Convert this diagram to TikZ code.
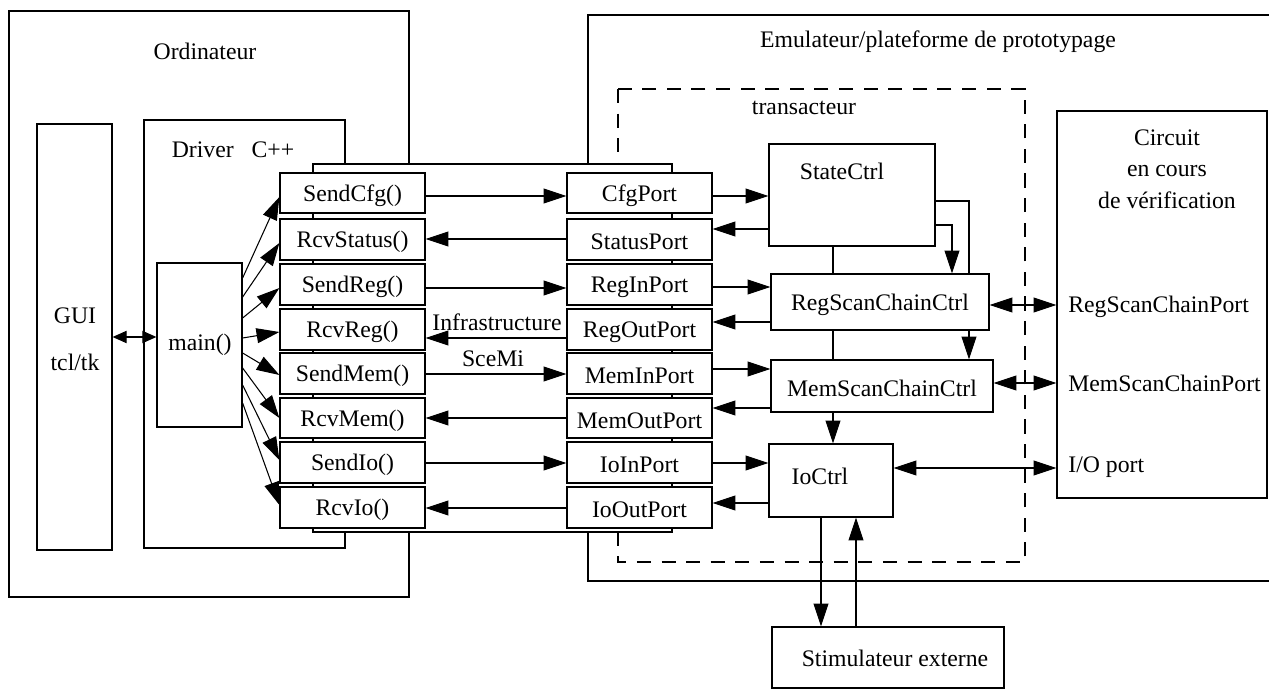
\documentclass[tikz,border=0pt]{standalone}
\usepackage{fontspec}
\setmainfont{Liberation Serif}
\usetikzlibrary{arrows.meta,fit}

\begin{document}
\begin{tikzpicture}[x=0.02cm,y=-0.02cm,
  box/.style={draw, line width=0.7pt, fill=white, inner sep=0pt},
  lbl/.style={inner sep=0pt, font=\fontsize{13.5}{16}\selectfont},
  txt/.style={label={[lbl, yshift=-1.5pt]center:#1}},
  conn/.style={line width=0.6pt},
  tip/.tip={Triangle[length=13pt,width=8.5pt]},
  smalltip/.tip={Triangle[length=8pt,width=7pt]},
  arr/.style={conn, -tip},
  darr/.style={conn, tip-tip},
  frame/.style={draw, line width=0.7pt},
  dashframe/.style={draw, line width=0.7pt, dash pattern=on 8pt off 6pt},
]
\useasboundingbox (0,0) rectangle (1269,696);
\clip (0,0) rectangle (1269,696);

% outer enclosures
\draw[frame] (9,11) rectangle (409,597);
\draw[frame] (588,15) rectangle (1290,581);
\draw[dashframe] (618,89) rectangle (1025,562);
\node[lbl] (ordLbl) at (205,51) {Ordinateur};
\node[lbl] (emuLbl) at (938,42) {Emulateur/plateforme de prototypage};
\node[lbl] (trLbl) at (804,108) {transacteur};

% host side
\node[box, fit={(37,124)(112,550)}] (gui) {};
\node[lbl] (guiLbl) at (75,316) {GUI};
\node[lbl] (tclLbl) at (75,362) {tcl/tk};
\draw[frame] (144,120) rectangle (345,548);
\node[lbl] (drvLbl) at (233,150) {Driver\hspace{0.75em}C++};
\node[box, fit={(157,263)(242,427)}] (main) {};
\node[lbl] (mainLbl) at (200,345) {main()};

% SceMi infrastructure
\node[box, fit={(313,164)(672,532)}] (infra) {};

\foreach \n/\t/\yt/\yb in {sendcfg/SendCfg()/173/213, rcvstatus/RcvStatus()/219/260,
  sendreg/SendReg()/264/305, rcvreg/RcvReg()/309/350, sendmem/SendMem()/353/394,
  rcvmem/RcvMem()/398/438, sendio/SendIo()/442/483, rcvio/RcvIo()/487/528}
  \node[box, fit={(280,\yt)(425,\yb)}, txt={\t}] (\n) {};

\foreach \n/\t/\yt/\yb in {cfgport/CfgPort/173/213, statusport/StatusPort/219/260,
  reginport/RegInPort/264/305, regoutport/RegOutPort/309/350, meminport/MemInPort/353/394,
  memoutport/MemOutPort/398/438, ioinport/IoInPort/442/483, iooutport/IoOutPort/487/528}
  \node[box, fit={(567,\yt)(712,\yb)}, txt={\t}] (\n) {};

% transactor controllers
\node[box, fit={(769,144)(935,246)}] (state) {};
\node[lbl] (stateLbl) at (842,171) {StateCtrl};
\node[box, fit={(771,274)(989,330)}, txt={RegScanChainCtrl}] (regscan) {};
\node[box, fit={(771,360)(993,412)}, txt={MemScanChainCtrl}] (memscan) {};
\node[box, fit={(769,444)(893,517)}] (ioctrl) {};
\node[lbl] (ioLbl) at (820,476) {IoCtrl};

% design under verification
\node[box, fit={(1057,111)(1267,498)}] (dut) {};
\node[lbl, align=center] (dutLbl) at (1167,169)
  {Circuit\\[2pt]en cours\\[2pt]de vérification};
\node[lbl, anchor=west] (regscanport) at (1068,307) {RegScanChainPort};
\node[lbl, anchor=west] (memscanport) at (1068,383) {MemScanChainPort};
\node[lbl, anchor=west] (ioport) at (1068,467) {I/O port};

% external stimulus
\node[box, fit={(772,627)(1004,688)}] (stim) {};
\node[lbl] (stimLbl) at (895,658) {Stimulateur externe};

% GUI <-> main
\draw[conn, smalltip-smalltip] (gui.east |- 0,337) -- (main.west |- 0,337);

% main() fan-out to the driver calls
\draw[arr] (main.east |- 0,278) -- (sendcfg.west |- 0,197);
\draw[arr] (main.east |- 0,297) -- (rcvstatus.west |- 0,243);
\draw[arr] (main.east |- 0,318) -- (sendreg.west |- 0,288);
\draw[arr] (main.east |- 0,338) -- (rcvreg.west |- 0,332);
\draw[arr] (main.east |- 0,353) -- (sendmem.west |- 0,375);
\draw[arr] (main.east |- 0,368) -- (rcvmem.west |- 0,418);
\draw[arr] (main.east |- 0,385) -- (sendio.west |- 0,460);
\draw[arr] (main.east |- 0,403) -- (rcvio.west |- 0,505);

% driver calls <-> ports
\draw[arr] (sendcfg.east |- 0,196) -- (cfgport.west |- 0,196);
\draw[arr] (statusport.west |- 0,239) -- (rcvstatus.east |- 0,239);
\draw[arr] (sendreg.east |- 0,288) -- (reginport.west |- 0,288);
\draw[arr] (regoutport.west |- 0,338) -- (rcvreg.east |- 0,338);
\draw[arr] (sendmem.east |- 0,374) -- (meminport.west |- 0,374);
\draw[arr] (memoutport.west |- 0,418) -- (rcvmem.east |- 0,418);
\draw[arr] (sendio.east |- 0,463) -- (ioinport.west |- 0,463);
\draw[arr] (iooutport.west |- 0,508) -- (rcvio.east |- 0,508);
\node[lbl] (infraLbl) at (497,322) {Infrastructure};
\node[lbl] (scemiLbl) at (493,359) {SceMi};

% ports <-> controllers
\draw[arr] (cfgport.east |- 0,196) -- (state.west |- 0,196);
\draw[arr] (state.west |- 0,229) -- (statusport.east |- 0,229);
\draw[arr] (reginport.east |- 0,287) -- (regscan.west |- 0,287);
\draw[arr] (regscan.west |- 0,322) -- (regoutport.east |- 0,322);
\draw[arr] (meminport.east |- 0,369) -- (memscan.west |- 0,369);
\draw[arr] (memscan.west |- 0,408) -- (memoutport.east |- 0,408);
\draw[arr] (ioinport.east |- 0,463) -- (ioctrl.west |- 0,463);
\draw[arr] (ioctrl.west |- 0,503) -- (iooutport.east |- 0,503);

% controller chain
\draw[conn] (state.south -| 833,0) -- (regscan.north -| 833,0);
\draw[conn] (regscan.south -| 833,0) -- (memscan.north -| 833,0);
\draw[arr] (memscan.south -| 833,0) -- (ioctrl.north -| 833,0);
\draw[arr] (state.east |- 0,225) -| (regscan.north -| 952,0);
\draw[conn] (state.east |- 0,201) -| (regscan.north -| 969,0);
\draw[arr] (regscan.south -| 969,0) -- (memscan.north -| 969,0);

% controllers <-> circuit
\draw[darr] (regscan.east |- 0,305) -- (dut.west |- 0,305);
\draw[darr] (memscan.east |- 0,383) -- (dut.west |- 0,383);
\draw[darr] (ioctrl.east |- 0,468) -- (dut.west |- 0,468);

% IoCtrl <-> external stimulus
\draw[arr] (ioctrl.south -| 821,0) -- (stim.north -| 821,0);
\draw[arr] (stim.north -| 856,0) -- (ioctrl.south -| 856,0);
\end{tikzpicture}
\end{document}
